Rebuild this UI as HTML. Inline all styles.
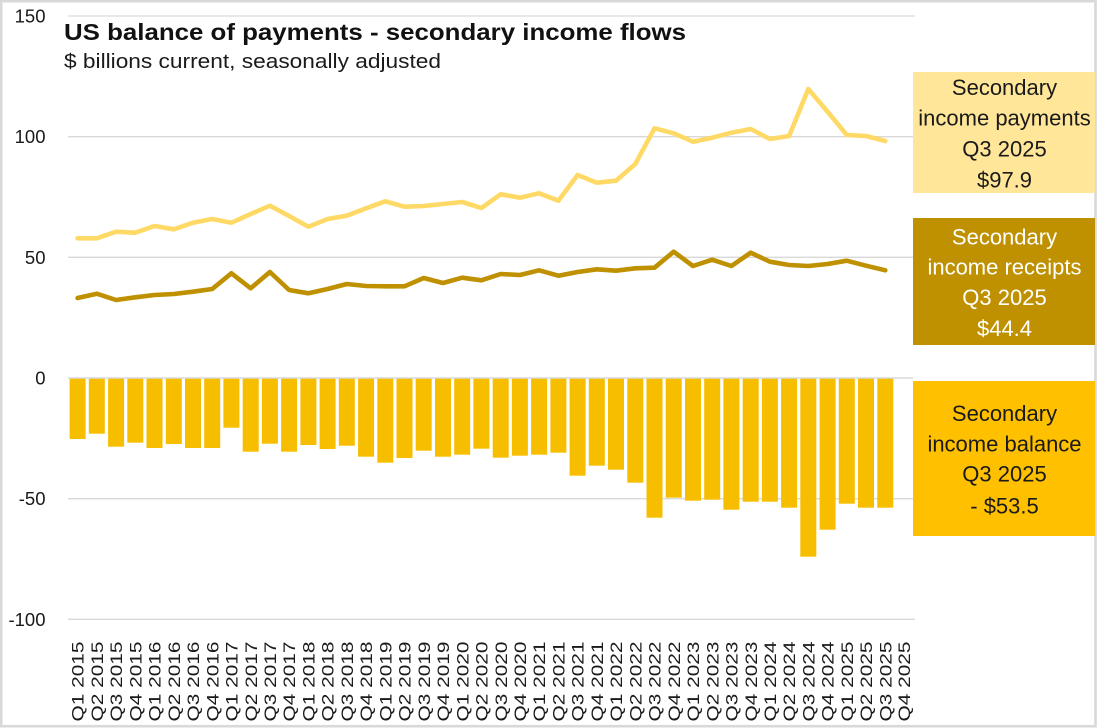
<!DOCTYPE html>
<html><head><meta charset="utf-8"><style>
html,body{margin:0;padding:0;background:#fff;}
svg{display:block;font-family:"Liberation Sans",Arial,sans-serif;}
</style></head><body>
<svg width="1097" height="728" viewBox="0 0 1097 728" xmlns="http://www.w3.org/2000/svg">
<rect x="0" y="0" width="1097" height="728" fill="#fff"/>
<rect x="1.2" y="1.2" width="1094.3" height="725" fill="none" stroke="#d9d9d9" stroke-width="2.6"/>
<!-- gridlines -->
<g stroke="#d9d9d9" stroke-width="1.3">
<line x1="68" y1="16" x2="915" y2="16"/>
<line x1="68" y1="136.7" x2="915" y2="136.7"/>
<line x1="68" y1="257.3" x2="915" y2="257.3"/>
<line x1="68" y1="498.7" x2="915" y2="498.7"/>
<line x1="68" y1="619.3" x2="915" y2="619.3"/>
</g>
<!-- y labels -->
<g font-size="18.5" fill="#1a1a1a" text-anchor="end">
<text x="45.5" y="22.5">150</text>
<text x="45.5" y="143.2">100</text>
<text x="45.5" y="263.8">50</text>
<text x="45.5" y="384.5">0</text>
<text x="45.5" y="505.2">-50</text>
<text x="45.5" y="625.8">-100</text>
</g>
<!-- bars -->
<g fill="#F7BE00">
<rect x="69.6" y="378" width="16" height="61.0"/>
<rect x="88.8" y="378" width="16" height="55.7"/>
<rect x="108.1" y="378" width="16" height="68.7"/>
<rect x="127.3" y="378" width="16" height="64.7"/>
<rect x="146.5" y="378" width="16" height="70.0"/>
<rect x="165.8" y="378" width="16" height="66.0"/>
<rect x="185.0" y="378" width="16" height="70.0"/>
<rect x="204.2" y="378" width="16" height="70.0"/>
<rect x="223.4" y="378" width="16" height="49.7"/>
<rect x="242.7" y="378" width="16" height="73.7"/>
<rect x="261.9" y="378" width="16" height="65.7"/>
<rect x="281.1" y="378" width="16" height="73.7"/>
<rect x="300.4" y="378" width="16" height="67.0"/>
<rect x="319.6" y="378" width="16" height="71.0"/>
<rect x="338.8" y="378" width="16" height="67.7"/>
<rect x="358.1" y="378" width="16" height="78.7"/>
<rect x="377.3" y="378" width="16" height="84.7"/>
<rect x="396.5" y="378" width="16" height="80.0"/>
<rect x="415.7" y="378" width="16" height="72.7"/>
<rect x="435.0" y="378" width="16" height="78.7"/>
<rect x="454.2" y="378" width="16" height="76.7"/>
<rect x="473.4" y="378" width="16" height="70.7"/>
<rect x="492.7" y="378" width="16" height="79.7"/>
<rect x="511.9" y="378" width="16" height="77.7"/>
<rect x="531.1" y="378" width="16" height="76.7"/>
<rect x="550.4" y="378" width="16" height="74.7"/>
<rect x="569.6" y="378" width="16" height="97.7"/>
<rect x="588.8" y="378" width="16" height="87.7"/>
<rect x="608.0" y="378" width="16" height="91.7"/>
<rect x="627.3" y="378" width="16" height="104.7"/>
<rect x="646.5" y="378" width="16" height="139.7"/>
<rect x="665.7" y="378" width="16" height="119.7"/>
<rect x="685.0" y="378" width="16" height="122.7"/>
<rect x="704.2" y="378" width="16" height="121.7"/>
<rect x="723.4" y="378" width="16" height="131.7"/>
<rect x="742.7" y="378" width="16" height="123.7"/>
<rect x="761.9" y="378" width="16" height="123.7"/>
<rect x="781.1" y="378" width="16" height="129.7"/>
<rect x="800.3" y="378" width="16" height="178.7"/>
<rect x="819.6" y="378" width="16" height="151.7"/>
<rect x="838.8" y="378" width="16" height="125.7"/>
<rect x="858.0" y="378" width="16" height="129.7"/>
<rect x="877.3" y="378" width="16" height="129.7"/>
</g>
<line x1="68" y1="378" x2="913" y2="378" stroke="#d9d9d9" stroke-width="1.5"/>
<!-- lines -->
<polyline fill="none" stroke="#FFD966" stroke-width="4.6" stroke-linejoin="round" stroke-linecap="round" points="77.6,238.3 96.8,238.3 116.1,231.7 135.3,232.7 154.5,226.0 173.8,229.3 193.0,222.7 212.2,219.0 231.4,222.7 250.7,214.0 269.9,205.7 289.1,216.0 308.4,226.7 327.6,219.0 346.8,215.7 366.1,208.3 385.3,201.3 404.5,206.7 423.7,206.0 443.0,204.0 462.2,202.0 481.4,208.0 500.7,194.3 519.9,197.7 539.1,193.3 558.4,200.7 577.6,175.0 596.8,182.7 616.0,180.7 635.3,164.0 654.5,128.3 673.7,133.3 693.0,141.7 712.2,137.7 731.4,132.7 750.7,129.0 769.9,139.0 789.1,136.0 808.3,89.0 827.6,111.7 846.8,135.0 866.0,136.0 885.3,141.0"/>
<polyline fill="none" stroke="#BF9000" stroke-width="4.6" stroke-linejoin="round" stroke-linecap="round" points="77.6,298.0 96.8,293.7 116.1,300.0 135.3,297.3 154.5,295.0 173.8,294.0 193.0,291.7 212.2,289.0 231.4,273.3 250.7,288.3 269.9,272.0 289.1,290.0 308.4,293.3 327.6,289.0 346.8,284.0 366.1,286.0 385.3,286.3 404.5,286.3 423.7,278.0 443.0,283.0 462.2,277.7 481.4,280.3 500.7,274.0 519.9,275.0 539.1,270.3 558.4,275.7 577.6,272.0 596.8,269.3 616.0,270.7 635.3,268.3 654.5,267.7 673.7,251.7 693.0,266.0 712.2,259.7 731.4,266.0 750.7,252.7 769.9,261.7 789.1,265.0 808.3,266.0 827.6,264.0 846.8,260.7 866.0,265.7 885.3,270.3"/>
<!-- x labels -->
<g font-size="17" fill="#1a1a1a" text-anchor="end">
<text transform="translate(77.6,641.5) rotate(-90)" dy="0.36em" textLength="80" lengthAdjust="spacingAndGlyphs">Q1 2015</text>
<text transform="translate(96.8,641.5) rotate(-90)" dy="0.36em" textLength="80" lengthAdjust="spacingAndGlyphs">Q2 2015</text>
<text transform="translate(116.1,641.5) rotate(-90)" dy="0.36em" textLength="80" lengthAdjust="spacingAndGlyphs">Q3 2015</text>
<text transform="translate(135.3,641.5) rotate(-90)" dy="0.36em" textLength="80" lengthAdjust="spacingAndGlyphs">Q4 2015</text>
<text transform="translate(154.5,641.5) rotate(-90)" dy="0.36em" textLength="80" lengthAdjust="spacingAndGlyphs">Q1 2016</text>
<text transform="translate(173.8,641.5) rotate(-90)" dy="0.36em" textLength="80" lengthAdjust="spacingAndGlyphs">Q2 2016</text>
<text transform="translate(193.0,641.5) rotate(-90)" dy="0.36em" textLength="80" lengthAdjust="spacingAndGlyphs">Q3 2016</text>
<text transform="translate(212.2,641.5) rotate(-90)" dy="0.36em" textLength="80" lengthAdjust="spacingAndGlyphs">Q4 2016</text>
<text transform="translate(231.4,641.5) rotate(-90)" dy="0.36em" textLength="80" lengthAdjust="spacingAndGlyphs">Q1 2017</text>
<text transform="translate(250.7,641.5) rotate(-90)" dy="0.36em" textLength="80" lengthAdjust="spacingAndGlyphs">Q2 2017</text>
<text transform="translate(269.9,641.5) rotate(-90)" dy="0.36em" textLength="80" lengthAdjust="spacingAndGlyphs">Q3 2017</text>
<text transform="translate(289.1,641.5) rotate(-90)" dy="0.36em" textLength="80" lengthAdjust="spacingAndGlyphs">Q4 2017</text>
<text transform="translate(308.4,641.5) rotate(-90)" dy="0.36em" textLength="80" lengthAdjust="spacingAndGlyphs">Q1 2018</text>
<text transform="translate(327.6,641.5) rotate(-90)" dy="0.36em" textLength="80" lengthAdjust="spacingAndGlyphs">Q2 2018</text>
<text transform="translate(346.8,641.5) rotate(-90)" dy="0.36em" textLength="80" lengthAdjust="spacingAndGlyphs">Q3 2018</text>
<text transform="translate(366.1,641.5) rotate(-90)" dy="0.36em" textLength="80" lengthAdjust="spacingAndGlyphs">Q4 2018</text>
<text transform="translate(385.3,641.5) rotate(-90)" dy="0.36em" textLength="80" lengthAdjust="spacingAndGlyphs">Q1 2019</text>
<text transform="translate(404.5,641.5) rotate(-90)" dy="0.36em" textLength="80" lengthAdjust="spacingAndGlyphs">Q2 2019</text>
<text transform="translate(423.7,641.5) rotate(-90)" dy="0.36em" textLength="80" lengthAdjust="spacingAndGlyphs">Q3 2019</text>
<text transform="translate(443.0,641.5) rotate(-90)" dy="0.36em" textLength="80" lengthAdjust="spacingAndGlyphs">Q4 2019</text>
<text transform="translate(462.2,641.5) rotate(-90)" dy="0.36em" textLength="80" lengthAdjust="spacingAndGlyphs">Q1 2020</text>
<text transform="translate(481.4,641.5) rotate(-90)" dy="0.36em" textLength="80" lengthAdjust="spacingAndGlyphs">Q2 2020</text>
<text transform="translate(500.7,641.5) rotate(-90)" dy="0.36em" textLength="80" lengthAdjust="spacingAndGlyphs">Q3 2020</text>
<text transform="translate(519.9,641.5) rotate(-90)" dy="0.36em" textLength="80" lengthAdjust="spacingAndGlyphs">Q4 2020</text>
<text transform="translate(539.1,641.5) rotate(-90)" dy="0.36em" textLength="80" lengthAdjust="spacingAndGlyphs">Q1 2021</text>
<text transform="translate(558.4,641.5) rotate(-90)" dy="0.36em" textLength="80" lengthAdjust="spacingAndGlyphs">Q2 2021</text>
<text transform="translate(577.6,641.5) rotate(-90)" dy="0.36em" textLength="80" lengthAdjust="spacingAndGlyphs">Q3 2021</text>
<text transform="translate(596.8,641.5) rotate(-90)" dy="0.36em" textLength="80" lengthAdjust="spacingAndGlyphs">Q4 2021</text>
<text transform="translate(616.0,641.5) rotate(-90)" dy="0.36em" textLength="80" lengthAdjust="spacingAndGlyphs">Q1 2022</text>
<text transform="translate(635.3,641.5) rotate(-90)" dy="0.36em" textLength="80" lengthAdjust="spacingAndGlyphs">Q2 2022</text>
<text transform="translate(654.5,641.5) rotate(-90)" dy="0.36em" textLength="80" lengthAdjust="spacingAndGlyphs">Q3 2022</text>
<text transform="translate(673.7,641.5) rotate(-90)" dy="0.36em" textLength="80" lengthAdjust="spacingAndGlyphs">Q4 2022</text>
<text transform="translate(693.0,641.5) rotate(-90)" dy="0.36em" textLength="80" lengthAdjust="spacingAndGlyphs">Q1 2023</text>
<text transform="translate(712.2,641.5) rotate(-90)" dy="0.36em" textLength="80" lengthAdjust="spacingAndGlyphs">Q2 2023</text>
<text transform="translate(731.4,641.5) rotate(-90)" dy="0.36em" textLength="80" lengthAdjust="spacingAndGlyphs">Q3 2023</text>
<text transform="translate(750.7,641.5) rotate(-90)" dy="0.36em" textLength="80" lengthAdjust="spacingAndGlyphs">Q4 2023</text>
<text transform="translate(769.9,641.5) rotate(-90)" dy="0.36em" textLength="80" lengthAdjust="spacingAndGlyphs">Q1 2024</text>
<text transform="translate(789.1,641.5) rotate(-90)" dy="0.36em" textLength="80" lengthAdjust="spacingAndGlyphs">Q2 2024</text>
<text transform="translate(808.3,641.5) rotate(-90)" dy="0.36em" textLength="80" lengthAdjust="spacingAndGlyphs">Q3 2024</text>
<text transform="translate(827.6,641.5) rotate(-90)" dy="0.36em" textLength="80" lengthAdjust="spacingAndGlyphs">Q4 2024</text>
<text transform="translate(846.8,641.5) rotate(-90)" dy="0.36em" textLength="80" lengthAdjust="spacingAndGlyphs">Q1 2025</text>
<text transform="translate(866.0,641.5) rotate(-90)" dy="0.36em" textLength="80" lengthAdjust="spacingAndGlyphs">Q2 2025</text>
<text transform="translate(885.3,641.5) rotate(-90)" dy="0.36em" textLength="80" lengthAdjust="spacingAndGlyphs">Q3 2025</text>
<text transform="translate(904.0,641.5) rotate(-90)" dy="0.36em" textLength="80" lengthAdjust="spacingAndGlyphs">Q4 2025</text>
</g>
<!-- title -->
<text x="64" y="40" font-size="23" font-weight="bold" fill="#111" textLength="622" lengthAdjust="spacingAndGlyphs">US balance of payments - secondary income flows</text>
<text x="64" y="68" font-size="20" fill="#1a1a1a" textLength="377" lengthAdjust="spacingAndGlyphs">$ billions current, seasonally adjusted</text>
<!-- boxes -->
<rect x="913" y="72" width="182" height="121" fill="#FFE699"/>
<g font-size="22" fill="#1a1a1a" text-anchor="middle">
<text x="1004.5" y="95">Secondary</text>
<text x="1004.5" y="125.5">income payments</text>
<text x="1004.5" y="156.5">Q3 2025</text>
<text x="1004.5" y="187.5">$97.9</text>
</g>
<rect x="913" y="218" width="182" height="127" fill="#BF9000"/>
<g font-size="22" fill="#ffffff" text-anchor="middle">
<text x="1004.5" y="244.3">Secondary</text>
<text x="1004.5" y="274.5">income receipts</text>
<text x="1004.5" y="305">Q3 2025</text>
<text x="1004.5" y="336">$44.4</text>
</g>
<rect x="913" y="381" width="182" height="155" fill="#FFC000"/>
<g font-size="22" fill="#1a1a1a" text-anchor="middle">
<text x="1004.5" y="421">Secondary</text>
<text x="1004.5" y="451.7">income balance</text>
<text x="1004.5" y="481.7">Q3 2025</text>
<text x="1004.5" y="513.3">- $53.5</text>
</g>
</svg>
</body></html>
